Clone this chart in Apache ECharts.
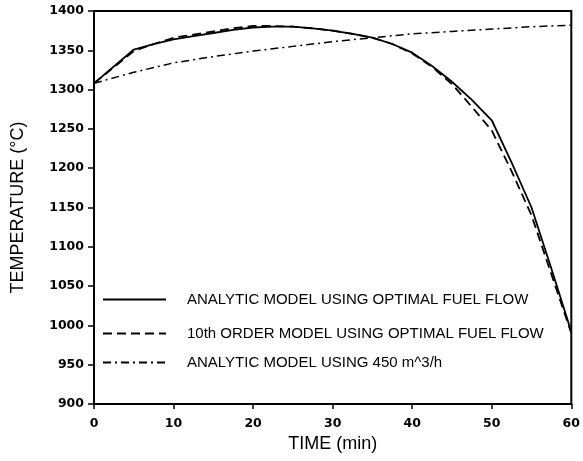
<!DOCTYPE html>
<html><head><meta charset="utf-8">
<script src="https://cdn.jsdelivr.net/npm/echarts@6/dist/echarts.min.js"></script>
<style>html,body{margin:0;padding:0;background:#fff}#c{width:583px;height:461px}</style>
</head><body><div id="c"></div>
<script>
const seriesNames = ['ANALYTIC MODEL USING OPTIMAL FUEL FLOW','10th ORDER MODEL USING OPTIMAL FUEL FLOW','ANALYTIC MODEL USING 450 m^3/h'];
const timeAnalytic = [0, 5, 7.5, 10, 12.5, 15, 17.5, 20, 22.5, 25, 27.5, 30, 32.5, 35, 37.5, 40, 42.5, 45, 47.5, 50, 52.5, 55, 57.5, 60];
const tempAnalytic = [1308, 1351, 1358, 1364, 1368, 1372, 1376, 1379, 1380, 1380, 1378, 1375, 1371, 1366, 1358, 1347, 1330, 1310, 1287, 1261, 1207, 1150, 1072, 992];
const time10th = [0, 5, 7.5, 10, 12.5, 15, 17.5, 20, 22.5, 25, 27.5, 30, 32.5, 35, 37.5, 40, 42.5, 45, 47.5, 50, 52.5, 55, 57.5, 60];
const temp10th = [1308, 1349, 1358, 1366, 1370, 1374, 1378, 1381, 1381, 1380, 1378, 1375, 1371, 1366, 1358, 1346, 1329, 1307, 1278, 1248, 1196, 1140, 1065, 990];
const time450 = [0, 5, 10, 15, 20, 25, 30, 35, 40, 45, 50, 55, 60];
const temp450 = [1308, 1322, 1334, 1342, 1349, 1355, 1361, 1366, 1371, 1374, 1377, 1380, 1382];
const yTicks = {min: 900, max: 1400, interval: 50};
const xTicks = {min: 0, max: 60, interval: 10};

const toPairs = (xs, ys) => xs.map((x, i) => [x, ys[i]]);
const chart = echarts.init(document.getElementById('c'));
const lab = {color:'#000', fontFamily:'DejaVu Sans', fontWeight:'bold', fontSize:12.5};
const styles = [
  {color:'#000', width:1.8, type:'solid'},
  {color:'#000', width:1.8, type:[9,5]},
  {color:'#000', width:1.5, type:[8,4,2,4]}
];
const legendTops = [287, 321, 350];
chart.setOption({
  animation:false,
  backgroundColor:'#fff',
  grid:{left:94, right:9, top:11, bottom:57, show:true, borderColor:'#000', borderWidth:2},
  legend:seriesNames.map((n,i)=>({
    orient:'horizontal', left:97, top:legendTops[i], itemWidth:63, itemHeight:14,
    itemStyle:{color:'rgba(0,0,0,0)', borderWidth:0, opacity:0},
    textStyle:{color:'#000', fontFamily:'Liberation Sans', fontSize:15, padding:[0,0,0,16]},
    data:[n]
  })),
  xAxis:{
    type:'value', min:xTicks.min, max:xTicks.max, interval:xTicks.interval,
    name:'TIME (min)', nameLocation:'middle', nameGap:29,
    nameTextStyle:{color:'#000', fontFamily:'Liberation Sans', fontSize:18},
    axisLine:{show:true, lineStyle:{color:'#000', width:2}},
    axisTick:{show:true, length:5, lineStyle:{color:'#000', width:1.5}},
    axisLabel:Object.assign({margin:13}, lab),
    splitLine:{show:false}
  },
  yAxis:{
    type:'value', min:yTicks.min, max:yTicks.max, interval:yTicks.interval,
    name:'TEMPERATURE (°C)', nameLocation:'middle', nameGap:67,
    nameTextStyle:{color:'#000', fontFamily:'Liberation Sans', fontSize:18},
    axisLine:{show:true, lineStyle:{color:'#000', width:2}},
    axisTick:{show:true, length:6, lineStyle:{color:'#000', width:1.5}},
    axisLabel:Object.assign({margin:10, formatter:v=>String(v)}, lab),
    splitLine:{show:false}
  },
  series:seriesNames.map((n,i)=>({
    name:n, type:'line', symbol:'none', smooth:false,
    data:[toPairs(timeAnalytic,tempAnalytic), toPairs(time10th,temp10th), toPairs(time450,temp450)][i],
    lineStyle:styles[i], itemStyle:{color:'#000'}
  }))
});
</script></body></html>
